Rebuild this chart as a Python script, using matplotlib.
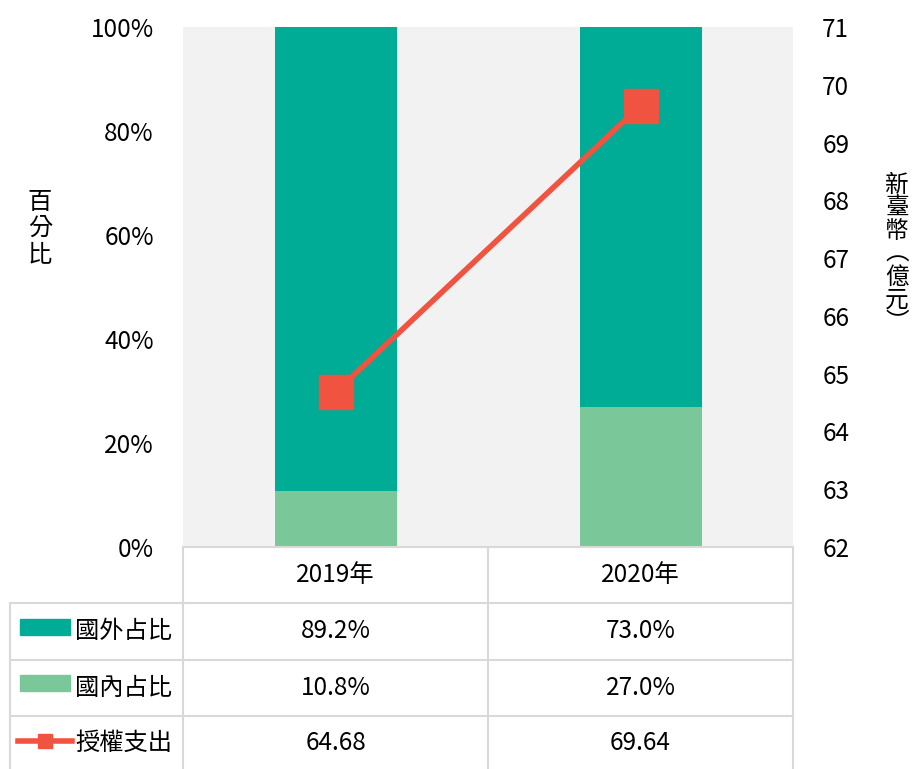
import matplotlib
matplotlib.use('Agg')
import matplotlib.pyplot as plt
from matplotlib.lines import Line2D
from matplotlib.patches import Rectangle

plt.rcParams['font.family'] = ['Noto Sans CJK TC', 'DejaVu Sans']

# data
years = ['2019年', '2020年']
foreign_pct = [89.2, 73.0]
domestic_pct = [10.8, 27.0]
license_spend = [64.68, 69.64]
series_names = ['國外占比', '國內占比', '授權支出']

c_foreign = '#00ac95'
c_domestic = '#7ac899'
c_line = '#f0533f'
c_grid = '#d9d9d9'
fs = 17.5

W, H = 913, 769
fig = plt.figure(figsize=(W / 100, H / 100), dpi=100)

def fx(px):
    return px / W

def fy(py):
    return 1 - py / H

ax_l, ax_r, ax_t, ax_b = 183, 793, 27, 547
ax = fig.add_axes([fx(ax_l), fy(ax_b), fx(ax_r) - fx(ax_l), fy(ax_t) - fy(ax_b)])
ax.set_facecolor('#f2f2f2')

x = list(range(len(years)))
ax.bar(x, domestic_pct, width=0.4, color=c_domestic, zorder=2)
ax.bar(x, foreign_pct, width=0.4, bottom=domestic_pct, color=c_foreign, zorder=2)
ax.set_xlim(-0.5, len(years) - 0.5)
ax.set_ylim(0, 100)
ax.set_yticks(range(0, 101, 20))
ax.set_yticklabels([f'{v}%' for v in range(0, 101, 20)])
ax.set_xticks([])
for s in ax.spines.values():
    s.set_visible(False)
ax.tick_params(axis='y', length=0, labelsize=fs, pad=21)

ax2 = ax.twinx()
ax2.plot(x, license_spend, color=c_line, lw=4, marker='s', markersize=24, zorder=3)
ax2.set_ylim(62, 71)
ax2.set_yticks(range(62, 72))
for s in ax2.spines.values():
    s.set_visible(False)
ax2.tick_params(axis='y', length=0, labelsize=fs, pad=21)

fig.text(fx(40), fy(228), '\n'.join('百分比'), fontsize=17.5, ha='center', va='center',
         linespacing=1.0)
fig.text(fx(897), fy(254), '\n'.join('新臺幣︵億元︶'), fontsize=17, ha='center',
         va='center', linespacing=1.0)

# data table
col_x = [10, 183, 488, 793]
row_y = [547, 603, 660, 716, 769]

def hline(y, x0, x1):
    fig.add_artist(Line2D([fx(x0), fx(x1)], [fy(y), fy(y)], color=c_grid, lw=1.5))

def vline(xp, y0, y1):
    fig.add_artist(Line2D([fx(xp), fx(xp)], [fy(y0), fy(y1)], color=c_grid, lw=1.5))

hline(row_y[0], col_x[1], col_x[3])
for y in row_y[1:4]:
    hline(y, col_x[0], col_x[3])
vline(col_x[0], row_y[1], row_y[4])
for xp in col_x[1:]:
    vline(xp, row_y[0], row_y[4])

for i, yr in enumerate(years):
    cx = (col_x[i + 1] + col_x[i + 2]) / 2
    fig.text(fx(cx), fy((row_y[0] + row_y[1]) / 2), yr, fontsize=fs, ha='center', va='center')

rows = [[f'{v:.1f}%' for v in foreign_pct],
        [f'{v:.1f}%' for v in domestic_pct],
        [f'{v:.2f}' for v in license_spend]]
for r, vals in enumerate(rows):
    cy = (row_y[r + 1] + row_y[r + 2]) / 2
    for i, v in enumerate(vals):
        cx = (col_x[i + 1] + col_x[i + 2]) / 2
        fig.text(fx(cx), fy(cy), v, fontsize=fs, ha='center', va='center')
    fig.text(fx(75), fy(cy), series_names[r], fontsize=fs, ha='left', va='center')

# legend keys
for r, c in enumerate([c_foreign, c_domestic]):
    cy = (row_y[r + 1] + row_y[r + 2]) / 2 - 5
    fig.add_artist(Rectangle((fx(20), fy(cy + 8)), fx(70) - fx(20), fy(cy - 8) - fy(cy + 8),
                             color=c, transform=fig.transFigure))
cy = (row_y[3] + row_y[4]) / 2 - 2
fig.add_artist(Line2D([fx(18), fx(72)], [fy(cy), fy(cy)], color=c_line, lw=4))
fig.add_artist(Line2D([fx(45)], [fy(cy)], color=c_line, marker='s', markersize=10))

fig.savefig('out.png', dpi=100)
